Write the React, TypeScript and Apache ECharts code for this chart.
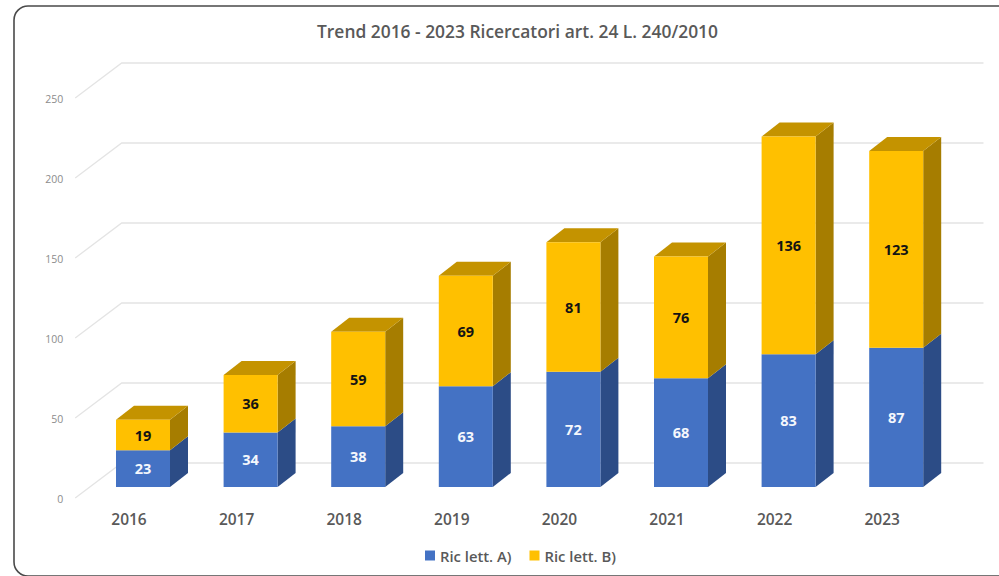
import React, { useEffect, useRef } from "react";
import * as echarts from "echarts";

const categories = ["2016", "2017", "2018", "2019", "2020", "2021", "2022", "2023"];
const letteraA = [23, 34, 38, 63, 72, 68, 83, 87];
const letteraB = [19, 36, 59, 69, 81, 76, 136, 123];
const ticks = [0, 50, 100, 150, 200, 250];
const nameA = "Ric lett. A)";
const nameB = "Ric lett. B)";
const title = "Trend 2016 - 2023 Ricercatori art. 24 L. 240/2010";

const FONT = "'Open Sans', sans-serif";
const BAR_W = 54;
const DX = 18;
const DY = 14;

function barRender(colors: { front: string; side: string; top: string }, labelColor: string, withTop: boolean) {
  return (_p: any, api: any) => {
    const i = api.value(0);
    const c0 = api.coord([i, api.value(1)]);
    const c1 = api.coord([i, api.value(2)]);
    const xl = c0[0] - BAR_W / 2;
    const xr = c0[0] + BAR_W / 2;
    const yb = c0[1];
    const yt = c1[1];
    const children: any[] = [
      {
        type: "polygon",
        shape: { points: [[xr, yb], [xr + DX, yb - DY], [xr + DX, yt - DY], [xr, yt]] },
        style: { fill: colors.side },
      },
    ];
    if (withTop) {
      children.push({
        type: "polygon",
        shape: { points: [[xl, yt], [xl + DX, yt - DY], [xr + DX, yt - DY], [xr, yt]] },
        style: { fill: colors.top },
      });
    }
    children.push({
      type: "rect",
      shape: { x: xl, y: yt, width: BAR_W, height: yb - yt },
      style: { fill: colors.front },
    });
    children.push({
      type: "text",
      style: {
        text: String(api.value(2) - api.value(1)),
        x: c0[0],
        y: (yb + yt) / 2,
        align: "center",
        verticalAlign: "middle",
        font: `700 14.5px ${FONT}`,
        fill: labelColor,
      },
    });
    return { type: "group", children };
  };
}

export default function App() {
  const ref = useRef<HTMLDivElement>(null);
  useEffect(() => {
    document.body.style.margin = "0";
    document.body.style.background = "#ffffff";
    const chart = echarts.init(ref.current!, undefined, { renderer: "svg" });
    const dataA = letteraA.map((v, i) => [i, 0, v]);
    const dataB = letteraB.map((v, i) => [i, letteraA[i], letteraA[i] + v]);
    chart.setOption({
      animation: false,
      backgroundColor: "#ffffff",
      title: {
        text: title,
        left: 512.5,
        top: 17,
        textAlign: "center",
        textStyle: { fontFamily: FONT, fontSize: 17.4, fontWeight: 600, color: "#595959" },
      },
      legend: {
        data: [nameA, nameB],
        left: 420,
        top: 543,
        icon: "rect",
        itemWidth: 10,
        itemHeight: 10,
        itemGap: 18,
        textStyle: { fontFamily: FONT, fontSize: 14.8, fontWeight: 600, color: "#595959" },
      },
      grid: { left: 89.2, top: 87, width: 860.8, height: 400 },
      xAxis: {
        type: "category",
        data: categories,
        axisLine: { show: false },
        axisTick: { show: false },
        axisLabel: {
          margin: 24,
          padding: [0, 28, 0, 0],
          fontFamily: FONT,
          fontSize: 15.5,
          fontWeight: 600,
          color: "#595959",
        },
      },
      yAxis: {
        type: "value",
        min: 0,
        max: 250,
        interval: 50,
        axisLine: { show: false },
        axisTick: { show: false },
        splitLine: { show: false },
        axisLabel: {
          margin: 26,
          verticalAlign: "top",
          lineHeight: 24,
          fontFamily: FONT,
          fontSize: 10.5,
          color: "#8c8c8c",
        },
      },
      series: [
        {
          type: "custom",
          name: "griglia",
          silent: true,
          z: 1,
          clip: false,
          data: ticks.map((t) => [0, t]),
          encode: { x: 0, y: 1 },
          renderItem: (p: any, api: any) => {
            const y = api.coord([0, api.value(1)])[1];
            const left = p.coordSys.x;
            const right = left + p.coordSys.width;
            return {
              type: "polyline",
              shape: { points: [[left - 14, y + 11], [left + 32.5, y - 24], [right + 33.5, y - 24]] },
              style: { fill: "none", stroke: "#e4e4e4", lineWidth: 1.3 },
            };
          },
        },
        {
          type: "custom",
          name: nameA,
          z: 2,
          clip: false,
          itemStyle: { color: "#4472C4" },
          data: dataA,
          encode: { x: 0, y: [1, 2] },
          renderItem: barRender({ front: "#4472C4", side: "#2C4C86", top: "#365C9F" }, "#f4f7fc", false),
        },
        {
          type: "custom",
          name: nameB,
          z: 3,
          clip: false,
          itemStyle: { color: "#FFC000" },
          data: dataB,
          encode: { x: 0, y: [1, 2] },
          renderItem: barRender({ front: "#FFC000", side: "#A67D00", top: "#C49300" }, "#141414", true),
        },
      ],
      graphic: [
        {
          type: "rect",
          silent: true,
          z: 100,
          shape: { x: 14, y: 6, width: 1000, height: 570, r: 14 },
          style: { fill: "none", stroke: "#4a4a4a", lineWidth: 1.6 },
        },
      ],
    });
    return () => chart.dispose();
  }, []);
  return <div ref={ref} style={{ width: 999, height: 576, overflow: "hidden" }} />;
}
